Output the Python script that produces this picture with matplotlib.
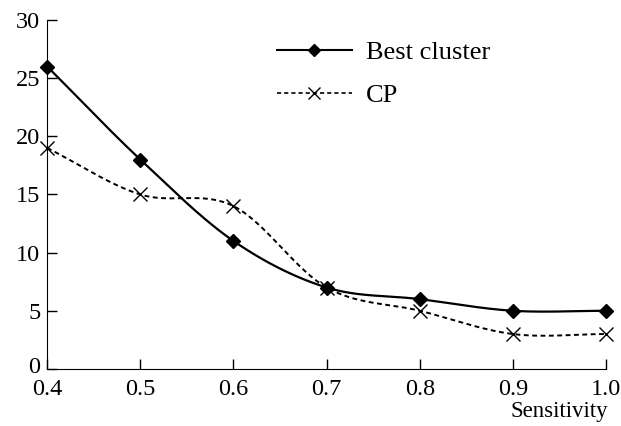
import numpy as np
import matplotlib
matplotlib.use("Agg")
import matplotlib.pyplot as plt
import matplotlib.transforms as mtransforms
from matplotlib.lines import Line2D

sensitivity = [0.4, 0.5, 0.6, 0.7, 0.8, 0.9, 1.0]
best_cluster = [26, 18, 11, 7, 6, 5, 5]
cp = [19, 15, 14, 7, 5, 3, 3]

plt.rcParams["font.family"] = ["Liberation Serif", "DejaVu Serif"]


def smooth(x, y, n=40):
    # Catmull-Rom spline through the points (rendering only)
    x = np.asarray(x, float)
    y = np.asarray(y, float)
    px = np.concatenate([[2 * x[0] - x[1]], x, [2 * x[-1] - x[-2]]])
    py = np.concatenate([[2 * y[0] - y[1]], y, [2 * y[-1] - y[-2]]])
    xs, ys = [], []
    t = np.linspace(0, 1, n)
    for i in range(1, len(px) - 2):
        for p, out in ((px, xs), (py, ys)):
            p0, p1, p2, p3 = p[i - 1], p[i], p[i + 1], p[i + 2]
            out.append(0.5 * (2 * p1 + (-p0 + p2) * t
                              + (2 * p0 - 5 * p1 + 4 * p2 - p3) * t ** 2
                              + (-p0 + 3 * p1 - 3 * p2 + p3) * t ** 3))
    return np.concatenate(xs), np.concatenate(ys)


fig = plt.figure(figsize=(6.21, 4.26), dpi=100)
ax = fig.add_axes([0.076, 0.134, 0.900, 0.819])

sx, sy = smooth(sensitivity, best_cluster)
ax.plot(sx, sy, "-", color="black", lw=1.6)
ax.plot(sensitivity, best_cluster, "D", color="black", ms=7, clip_on=False)

sx, sy = smooth(sensitivity, cp)
ax.plot(sx, sy, color="black", lw=1.4, ls=(0, (2.5, 1.8)))
ax.plot(sensitivity, cp, "x", color="black", ms=10, mew=1.0, clip_on=False)

ax.set_xlim(0.4, 1.0)
ax.set_ylim(0, 30)
ax.set_xticks(sensitivity)
ax.set_xticklabels(["0.4", "0.5", "0.6", "0.7", "0.8", "0.9", "1.0"])
ax.set_yticks([0, 5, 10, 15, 20, 25, 30])
ax.spines["top"].set_visible(False)
ax.spines["right"].set_visible(False)
ax.tick_params(direction="in", length=7, width=1, labelsize=17.5)
ax.tick_params(axis="x", pad=7)
ax.tick_params(axis="y", pad=5)

# lift the "0" label a little so it clears "0.4"
fig.canvas.draw()
lab0 = ax.get_yticklabels()[0]
lab0.set_transform(lab0.get_transform()
                   + mtransforms.ScaledTranslation(0, 3 / 72,
                                                   fig.dpi_scale_trans))

handles = [
    Line2D([], [], color="black", lw=1.5, marker="D", ms=6),
    Line2D([], [], color="black", lw=1.2, ls=(0, (2.5, 1.8)), marker="x",
           ms=8, mew=1.0),
]
ax.legend(handles, ["Best cluster", "CP"], loc="upper left",
          bbox_to_anchor=(0.368, 1.01), frameon=False, fontsize=19,
          handlelength=2.85, labelspacing=0.75, handletextpad=0.55)

fig.text(0.98, 0.022, "Sensitivity", ha="right", va="baseline",
         fontsize=16.5)

fig.savefig("out.png", dpi=100)
